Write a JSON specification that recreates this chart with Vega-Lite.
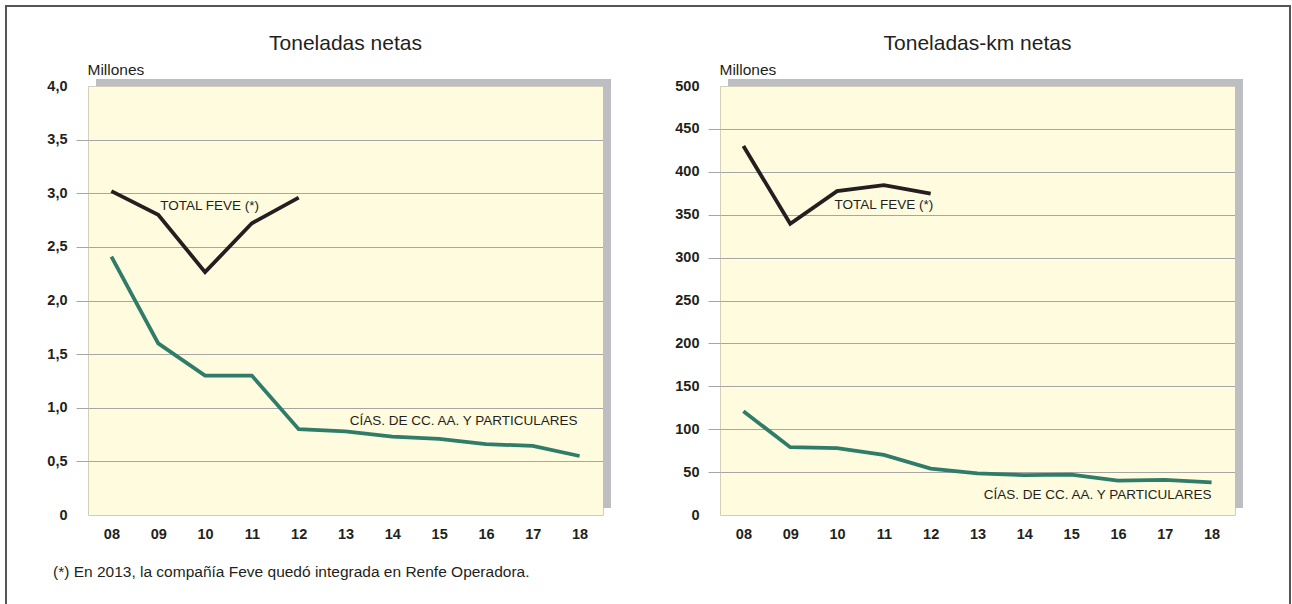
{
  "$schema": "https://vega.github.io/schema/vega-lite/v6.json",
  "background": "white",
  "padding": {"left": 5, "top": 5, "right": 0, "bottom": 0},
  "config": {
    "font": "Liberation Sans",
    "axis": {
      "labelFont": "Liberation Sans",
      "labelFontWeight": "bold",
      "labelFontSize": 14.5,
      "labelColor": "#231f20",
      "domain": false,
      "gridColor": "#a6a6a6",
      "gridWidth": 1,
      "tickColor": "#a6a6a6",
      "tickWidth": 1
    },
    "title": {
      "font": "Liberation Sans",
      "fontSize": 21,
      "fontWeight": "normal",
      "color": "#231f20",
      "anchor": "middle",
      "frame": "group",
      "offset": 8
    }
  },
  "datasets": {
    "toneladas": [
      {"year": "08", "serie": "TOTAL FEVE", "value": 3.02},
      {"year": "09", "serie": "TOTAL FEVE", "value": 2.80},
      {"year": "10", "serie": "TOTAL FEVE", "value": 2.265},
      {"year": "11", "serie": "TOTAL FEVE", "value": 2.72},
      {"year": "12", "serie": "TOTAL FEVE", "value": 2.96},
      {"year": "08", "serie": "CIAS", "value": 2.41},
      {"year": "09", "serie": "CIAS", "value": 1.60},
      {"year": "10", "serie": "CIAS", "value": 1.30},
      {"year": "11", "serie": "CIAS", "value": 1.30},
      {"year": "12", "serie": "CIAS", "value": 0.80},
      {"year": "13", "serie": "CIAS", "value": 0.78},
      {"year": "14", "serie": "CIAS", "value": 0.73},
      {"year": "15", "serie": "CIAS", "value": 0.71},
      {"year": "16", "serie": "CIAS", "value": 0.66},
      {"year": "17", "serie": "CIAS", "value": 0.645},
      {"year": "18", "serie": "CIAS", "value": 0.55}
    ],
    "tkm": [
      {"year": "08", "serie": "TOTAL FEVE", "value": 430},
      {"year": "09", "serie": "TOTAL FEVE", "value": 339.5},
      {"year": "10", "serie": "TOTAL FEVE", "value": 377.5},
      {"year": "11", "serie": "TOTAL FEVE", "value": 384.5},
      {"year": "12", "serie": "TOTAL FEVE", "value": 374.5},
      {"year": "08", "serie": "CIAS", "value": 121},
      {"year": "09", "serie": "CIAS", "value": 79},
      {"year": "10", "serie": "CIAS", "value": 78},
      {"year": "11", "serie": "CIAS", "value": 70},
      {"year": "12", "serie": "CIAS", "value": 54},
      {"year": "13", "serie": "CIAS", "value": 48.5},
      {"year": "14", "serie": "CIAS", "value": 46.5},
      {"year": "15", "serie": "CIAS", "value": 47},
      {"year": "16", "serie": "CIAS", "value": 40},
      {"year": "17", "serie": "CIAS", "value": 41},
      {"year": "18", "serie": "CIAS", "value": 38}
    ],
    "labels_ton": [
      {"year": "09", "serie": "TOTAL FEVE", "value": 2.88, "label": "TOTAL FEVE (*)"},
      {"year": "18", "serie": "CIAS", "value": 0.878, "label": "CÍAS. DE CC. AA. Y PARTICULARES"}
    ],
    "labels_tkm": [
      {"year": "10", "serie": "TOTAL FEVE", "value": 361.2, "label": "TOTAL FEVE (*)"},
      {"year": "18", "serie": "CIAS", "value": 23.2, "label": "CÍAS. DE CC. AA. Y PARTICULARES"}
    ]
  },
  "columns": 2,
  "bounds": "flush",
  "spacing": {"row": 47, "column": 117},
  "concat": [
    {
      "width": 515,
      "height": 429,
      "view": {"fill": "#fffbdf", "stroke": "#d2cfb8", "strokeWidth": 1},
      "title": {"text": "Toneladas netas"},
      "resolve": {"scale": {"x": "independent", "y": "independent"}},
      "layer": [
        {
          "data": {"values": [{}]},
          "layer": [
            {
              "mark": {"type": "rect", "fill": "#bcbec1"},
              "encoding": {
                "x": {"datum": 0.0155, "type": "quantitative", "scale": {"domain": [0, 1], "nice": false, "zero": false}, "axis": null},
                "x2": {"datum": 1.0155},
                "y": {"datum": 1, "type": "quantitative", "scale": {"domain": [0, 1], "nice": false, "zero": false}, "axis": null},
                "y2": {"datum": 1.0163}
              }
            },
            {
              "mark": {"type": "rect", "fill": "#bcbec1"},
              "encoding": {
                "x": {"datum": 1.0, "type": "quantitative", "scale": {"domain": [0, 1], "nice": false, "zero": false}, "axis": null},
                "x2": {"datum": 1.0155},
                "y": {"datum": 0.0163, "type": "quantitative", "scale": {"domain": [0, 1], "nice": false, "zero": false}, "axis": null},
                "y2": {"datum": 1.0163}
              }
            }
          ]
        },
        {
          "encoding": {
            "x": {
              "field": "year", "type": "ordinal",
              "scale": {"type": "point", "padding": 0.5, "domain": ["08","09","10","11","12","13","14","15","16","17","18"]},
              "axis": {"orient": "bottom", "title": null, "ticks": false, "tickSize": 0, "labelPadding": 12, "labelAngle": 0, "grid": false, "labelBaseline": "top"}
            },
            "y": {
              "field": "value", "type": "quantitative",
              "scale": {"domain": [0, 4], "nice": false, "zero": true},
              "axis": {
                "orient": "left",
                "values": [0, 0.5, 1, 1.5, 2, 2.5, 3, 3.5, 4],
                "labelExpr": "datum.value == 0 ? '0' : replace(format(datum.value, '.1f'), '.', ',')",
                "grid": true,
                "gridOpacity": {"condition": {"test": "datum.value == 0 || datum.value == 4", "value": 0}, "value": 1},
                "ticks": true,
                "tickSize": 12,
                "tickOpacity": {"condition": {"test": "datum.value == 0 || datum.value == 4", "value": 0}, "value": 1},
                "labelPadding": 9,
                "title": "Millones",
                "titleAngle": 0,
                "titleAlign": "left",
                "titleBaseline": "alphabetic",
                "titleX": -1,
                "titleY": -12,
                "titleFont": "Liberation Sans",
                "titleFontSize": 15.5,
                "titleFontWeight": "normal",
                "titleColor": "#231f20"
              }
            }
          },
          "layer": [
            {
              "data": {"name": "toneladas"},
              "mark": {"type": "line", "strokeWidth": 3.8},
              "encoding": {
                "color": {"field": "serie", "type": "nominal", "scale": {"domain": ["TOTAL FEVE", "CIAS"], "range": ["#231f20", "#2f7d69"]}, "legend": null}
              }
            },
            {
              "data": {"name": "labels_ton"},
              "transform": [{"filter": "datum.serie == 'TOTAL FEVE'"}],
              "mark": {"type": "text", "align": "left", "baseline": "middle", "dx": 2, "fontSize": 13.5, "color": "#231f20"},
              "encoding": {"text": {"field": "label"}}
            },
            {
              "data": {"name": "labels_ton"},
              "transform": [{"filter": "datum.serie == 'CIAS'"}],
              "mark": {"type": "text", "align": "right", "baseline": "middle", "dx": -2, "fontSize": 13.5, "color": "#231f20"},
              "encoding": {"text": {"field": "label"}}
            }
          ]
        }
      ]
    },
    {
      "width": 515,
      "height": 429,
      "view": {"fill": "#fffbdf", "stroke": "#d2cfb8", "strokeWidth": 1},
      "title": {"text": "Toneladas-km netas"},
      "resolve": {"scale": {"x": "independent", "y": "independent"}},
      "layer": [
        {
          "data": {"values": [{}]},
          "layer": [
            {
              "mark": {"type": "rect", "fill": "#bcbec1"},
              "encoding": {
                "x": {"datum": 0.0155, "type": "quantitative", "scale": {"domain": [0, 1], "nice": false, "zero": false}, "axis": null},
                "x2": {"datum": 1.0155},
                "y": {"datum": 1, "type": "quantitative", "scale": {"domain": [0, 1], "nice": false, "zero": false}, "axis": null},
                "y2": {"datum": 1.0163}
              }
            },
            {
              "mark": {"type": "rect", "fill": "#bcbec1"},
              "encoding": {
                "x": {"datum": 1.0, "type": "quantitative", "scale": {"domain": [0, 1], "nice": false, "zero": false}, "axis": null},
                "x2": {"datum": 1.0155},
                "y": {"datum": 0.0163, "type": "quantitative", "scale": {"domain": [0, 1], "nice": false, "zero": false}, "axis": null},
                "y2": {"datum": 1.0163}
              }
            }
          ]
        },
        {
          "encoding": {
            "x": {
              "field": "year", "type": "ordinal",
              "scale": {"type": "point", "padding": 0.5, "domain": ["08","09","10","11","12","13","14","15","16","17","18"]},
              "axis": {"orient": "bottom", "title": null, "ticks": false, "tickSize": 0, "labelPadding": 12, "labelAngle": 0, "grid": false, "labelBaseline": "top"}
            },
            "y": {
              "field": "value", "type": "quantitative",
              "scale": {"domain": [0, 500], "nice": false, "zero": true},
              "axis": {
                "orient": "left",
                "values": [0, 50, 100, 150, 200, 250, 300, 350, 400, 450, 500],
                "format": "d",
                "grid": true,
                "gridOpacity": {"condition": {"test": "datum.value == 0 || datum.value == 500", "value": 0}, "value": 1},
                "ticks": true,
                "tickSize": 12,
                "tickOpacity": {"condition": {"test": "datum.value == 0 || datum.value == 500", "value": 0}, "value": 1},
                "labelPadding": 9,
                "title": "Millones",
                "titleAngle": 0,
                "titleAlign": "left",
                "titleBaseline": "alphabetic",
                "titleX": -1,
                "titleY": -12,
                "titleFont": "Liberation Sans",
                "titleFontSize": 15.5,
                "titleFontWeight": "normal",
                "titleColor": "#231f20"
              }
            }
          },
          "layer": [
            {
              "data": {"name": "tkm"},
              "mark": {"type": "line", "strokeWidth": 3.8},
              "encoding": {
                "color": {"field": "serie", "type": "nominal", "scale": {"domain": ["TOTAL FEVE", "CIAS"], "range": ["#231f20", "#2f7d69"]}, "legend": null}
              }
            },
            {
              "data": {"name": "labels_tkm"},
              "transform": [{"filter": "datum.serie == 'TOTAL FEVE'"}],
              "mark": {"type": "text", "align": "left", "baseline": "middle", "dx": -2.5, "fontSize": 13.5, "color": "#231f20"},
              "encoding": {"text": {"field": "label"}}
            },
            {
              "data": {"name": "labels_tkm"},
              "transform": [{"filter": "datum.serie == 'CIAS'"}],
              "mark": {"type": "text", "align": "right", "baseline": "middle", "dx": 0, "fontSize": 13.5, "color": "#231f20"},
              "encoding": {"text": {"field": "label"}}
            }
          ]
        }
      ]
    },
    {
      "width": 515,
      "height": 20,
      "view": {"stroke": null, "fill": null},
      "data": {"values": [{"note": "(*) En 2013, la compañía Feve quedó integrada en Renfe Operadora."}]},
      "layer": [
        {
          "mark": {"type": "rect", "fill": "transparent", "stroke": "#555555", "strokeWidth": 2},
          "encoding": {
            "x": {"datum": -0.15922, "type": "quantitative", "scale": {"domain": [0, 1], "nice": false, "zero": false}, "axis": null},
            "x2": {"datum": 2.33398},
            "y": {"datum": 28.8, "type": "quantitative", "scale": {"domain": [0, 1], "nice": false, "zero": false}, "axis": null},
            "y2": {"datum": -1.5}
          }
        },
        {
          "mark": {"type": "text", "align": "left", "baseline": "alphabetic", "fontSize": 15.5, "color": "#231f20"},
          "encoding": {
            "x": {"datum": -0.068, "type": "quantitative", "scale": {"domain": [0, 1], "nice": false, "zero": false}, "axis": null},
            "y": {"datum": 0.235, "type": "quantitative", "scale": {"domain": [0, 1], "nice": false, "zero": false}, "axis": null},
            "text": {"field": "note"}
          }
        }
      ]
    }
  ]
}
